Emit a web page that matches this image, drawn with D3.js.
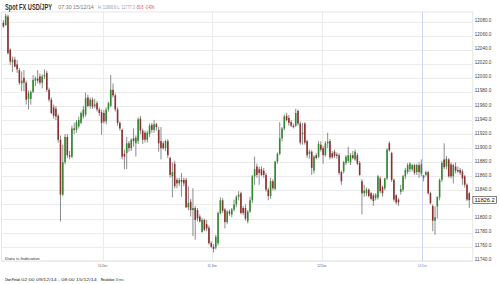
<!DOCTYPE html>
<html>
<head>
<meta charset="utf-8">
<script src="https://cdn.jsdelivr.net/npm/d3@7"></script>
<style>
  body { margin: 0; background: #fff; }
  svg { display: block; }
</style>
</head>
<body>
<script>
// 30 minute candles, 02:00 09/12/14 - 08:00 15/12/14
const opens = [12078,12075,12087,12040,12022,12026,12019,12011,11992,12000,11993,11970,11970,11980,11996,11999,12002,11993,12002,12007,
  11983,11969,11958,11956,11946,11912,11834,11880,11916,11890,11888,11928,11926,11931,11936,11945,11948,11972,11960,11969,
  11960,11964,11955,11951,11950,11938,11955,11960,11983,11975,11955,11936,11926,11892,11893,11907,11900,11914,11907,11910,
  11942,11925,11922,11912,11920,11933,11926,11934,11926,11910,11907,11900,11910,11886,11860,11878,11855,11850,11855,11855,
  11855,11816,11824,11812,11815,11812,11803,11781,11798,11792,11787,11765,11760,11759,11765,11808,11826,11813,11795,11810,
  11806,11813,11820,11831,11836,11815,11815,11796,11810,11826,11860,11874,11870,11870,11868,11862,11841,11832,11853,11842,
  11881,11892,11914,11928,11946,11943,11937,11932,11932,11953,11935,11920,11935,11910,11892,11895,11868,11890,11888,11905,
  11900,11890,11907,11910,11893,11895,11891,11890,11866,11867,11879,11882,11880,11890,11884,11890,11879,11853,11836,11836,
  11841,11836,11833,11829,11830,11857,11845,11843,11857,11907,11893,11855,11833,11827,11838,11841,11860,11866,11870,11870,
  11876,11866,11876,11864,11858,11862,11866,11836,11818,11797,11817,11830,11855,11884,11874,11884,11877,11860,11874,11869,
  11869,11867,11860,11848,11836];
const highs = [12082,12091,12090,12042,12030,12030,12025,12014,12009,12011,11996,11982,11982,12004,12002,12011,12006,12005,12012,12010,
  11986,11972,11962,11960,11949,11918,11905,11920,11920,11896,11932,11936,11940,11945,11952,11960,11979,11976,11972,11972,
  11970,11967,11958,11955,11954,11958,11966,12004,11992,11978,11958,11938,11928,11898,11916,11910,11914,11928,11918,11944,
  11946,11928,11925,11925,11935,11936,11940,11936,11930,11930,11910,11912,11913,11888,11880,11882,11858,11858,11865,11858,
  11858,11846,11828,11843,11818,11815,11806,11801,11800,11798,11790,11768,11764,11777,11810,11830,11829,11815,11812,11813,
  11815,11827,11833,11839,11838,11818,11820,11812,11831,11862,11888,11878,11874,11874,11872,11865,11844,11858,11856,11882,
  11894,11937,11930,11948,11950,11947,11940,11935,11956,11955,11938,11936,11937,11912,11898,11897,11890,11893,11910,11910,
  11903,11910,11922,11913,11896,11898,11894,11893,11868,11882,11890,11902,11893,11896,11898,11893,11882,11856,11848,11844,
  11843,11838,11836,11836,11862,11860,11847,11858,11900,11910,11895,11857,11835,11829,11848,11862,11872,11879,11880,11878,
  11878,11878,11880,11884,11862,11868,11868,11838,11820,11817,11831,11857,11882,11907,11889,11886,11880,11878,11880,11874,
  11872,11870,11862,11850,11838];
const lows = [12071,12074,12033,12018,12008,12015,12007,11990,11981,11981,11962,11955,11962,11978,11988,11992,11990,11985,11998,11980,
  11966,11948,11942,11940,11908,11796,11832,11877,11886,11884,11886,11920,11922,11928,11934,11942,11945,11958,11956,11956,
  11957,11952,11946,11919,11935,11934,11952,11958,11972,11952,11932,11925,11884,11870,11870,11895,11896,11902,11888,11906,
  11920,11906,11908,11908,11916,11922,11922,11925,11895,11884,11898,11896,11886,11858,11830,11843,11843,11846,11831,11846,
  11815,11812,11803,11775,11770,11796,11794,11780,11782,11782,11763,11758,11752,11756,11762,11806,11808,11786,11792,11804,
  11802,11810,11816,11826,11806,11805,11797,11793,11808,11822,11848,11858,11848,11860,11858,11838,11826,11828,11840,11840,
  11878,11890,11910,11925,11938,11932,11930,11928,11930,11932,11905,11905,11905,11886,11885,11862,11864,11884,11886,11895,
  11878,11888,11900,11884,11885,11886,11885,11862,11848,11864,11876,11879,11876,11884,11882,11876,11861,11806,11831,11832,
  11830,11826,11818,11826,11827,11836,11831,11840,11855,11895,11852,11824,11820,11818,11834,11838,11856,11863,11866,11867,
  11862,11862,11858,11860,11853,11860,11834,11820,11782,11777,11800,11826,11852,11870,11870,11858,11857,11850,11864,11865,
  11862,11848,11844,11825,11815];
const closes = [12073,12088,12035,12023,12026,12016,12012,11993,11996,11993,11969,11978,11980,11997,11999,11996,11993,12002,12004,11983,
  11969,11950,11946,11945,11912,11834,11880,11916,11890,11888,11928,11926,11937,11940,11950,11955,11971,11960,11969,11959,
  11962,11955,11950,11936,11938,11955,11964,11983,11975,11955,11936,11928,11888,11888,11907,11900,11912,11910,11915,11941,
  11925,11912,11912,11922,11932,11926,11934,11930,11907,11900,11900,11910,11890,11862,11866,11846,11850,11855,11852,11850,
  11816,11822,11812,11815,11798,11800,11796,11798,11784,11786,11765,11760,11757,11774,11808,11826,11811,11795,11810,11807,
  11813,11820,11831,11834,11808,11808,11800,11810,11826,11860,11870,11862,11865,11862,11862,11841,11832,11853,11843,11881,
  11892,11914,11928,11945,11940,11936,11932,11930,11950,11935,11908,11922,11908,11890,11895,11872,11888,11886,11906,11898,
  11890,11907,11909,11887,11887,11889,11889,11865,11853,11880,11888,11890,11890,11886,11895,11878,11862,11836,11840,11841,
  11832,11828,11825,11834,11860,11839,11836,11857,11898,11897,11855,11827,11823,11823,11842,11860,11869,11876,11878,11876,
  11865,11876,11866,11877,11861,11866,11836,11822,11797,11802,11831,11855,11879,11873,11885,11860,11860,11876,11868,11867,
  11865,11857,11848,11827,11826.2];

const dayLabels = ["10 Dec", "11 Dec", "12 Dec", "14 Dec"];
const dayStarts = [44, 92, 140, 184];
const priceTicks = [11740,11760,11780,11800,11820,11840,11860,11880,11900,11920,11940,11960,11980,12000,12020,12040,12060,12080];
const lastPrice = 11826.2;

const svg = d3.select("body").append("svg")
  .attr("width", 500)
  .attr("height", 284)
  .style("font-family", "'Liberation Sans', Arial, sans-serif");

const plot = { left: 1.5, right: 472.7, top: 12, bottom: 260.8 };

const x = d3.scaleLinear().domain([0, 206]).range([2.25, 472.7]);
const y = d3.scaleLinear().domain([11740, 12080]).range([260.8, 21.5]);

const candles = opens.map((o, i) => ({ i, o, h: highs[i], l: lows[i], c: closes[i] }));

// the source image is squeezed sideways, so text is scaled to its measured width
function squeezed(parent, str, px, py, size, width, opts = {}) {
  const g = parent.append("g");
  const t = g.append("text")
    .attr("font-size", size)
    .attr("font-weight", opts.bold ? "bold" : "normal")
    .attr("fill", opts.fill || "#333")
    .text(str);
  const natural = t.node().getComputedTextLength();
  const k = width / natural;
  const x0 = opts.middle ? px - width / 2 : px;
  g.attr("transform", `translate(${x0},${py}) scale(${k},1)`);
  return t;
}

// plot frame + grid
svg.append("rect")
  .attr("x", plot.left).attr("y", plot.top)
  .attr("width", plot.right - plot.left).attr("height", plot.bottom - plot.top)
  .attr("fill", "#fff").attr("stroke", "#e6e6e6").attr("stroke-width", 1);

svg.append("g").selectAll("line")
  .data(priceTicks)
  .enter().append("line")
  .attr("x1", plot.left).attr("x2", plot.right)
  .attr("y1", d => Math.round(y(d)) + 0.5).attr("y2", d => Math.round(y(d)) + 0.5)
  .attr("stroke", "#ebebeb");

svg.append("g").selectAll("line")
  .data(dayStarts)
  .enter().append("line")
  .attr("x1", d => Math.round(x(d)) + 0.5).attr("x2", d => Math.round(x(d)) + 0.5)
  .attr("y1", plot.top).attr("y2", plot.bottom)
  .attr("stroke", (d, i) => dayLabels[i] === "14 Dec" ? "#cdd3f2" : "#ebebeb");

// candles
const cg = svg.append("g");
cg.selectAll("line.wick")
  .data(candles)
  .enter().append("line")
  .attr("class", "wick")
  .attr("x1", d => x(d.i + 0.5)).attr("x2", d => x(d.i + 0.5))
  .attr("y1", d => y(d.h)).attr("y2", d => y(d.l))
  .attr("stroke", "#6f6f6f")
  .attr("stroke-width", 0.8);

cg.selectAll("rect.body")
  .data(candles)
  .enter().append("rect")
  .attr("class", "body")
  .attr("x", d => x(d.i) + 0.35)
  .attr("width", x(1) - x(0) - 0.7)
  .attr("y", d => y(Math.max(d.o, d.c)))
  .attr("height", d => Math.max(0.7, Math.abs(y(d.o) - y(d.c))))
  .attr("fill", d => d.c >= d.o ? "#2e8c2e" : "#8c2f2f");

// price axis
const fmt = d3.format(".1f");
priceTicks.filter(d => Math.abs(y(d) - y(lastPrice)) > 6).forEach(d => {
  squeezed(svg, fmt(d), 474.8, y(d) + 0.6, 4.8, 16.5, { fill: "#444" });
});

svg.append("rect")
  .attr("x", 472.9).attr("y", y(lastPrice) - 3.6)
  .attr("width", 23.6).attr("height", 6.8)
  .attr("fill", "#fff").attr("stroke", "#333").attr("stroke-width", 0.6);
squeezed(svg, fmt(lastPrice), 474.4, y(lastPrice) + 2.1, 6, 20.5, { fill: "#111" });

// day axis
dayStarts.forEach((d, i) => {
  squeezed(svg, dayLabels[i], x(d), 267.3, 3.8, 9.5,
    { middle: true, fill: dayLabels[i] === "14 Dec" ? "#6f82d8" : "#555" });
});

// notice on bottom edge
svg.append("rect")
  .attr("x", 3.5).attr("y", 255.5).attr("width", 38).attr("height", 5)
  .attr("fill", "#fff");
squeezed(svg, "Data is Indicative", 5, 259.8, 4, 35);

// header
squeezed(svg, "Spot FX USD/JPY", 5, 10, 9, 47, { bold: true });

const header = [
  { t: "07:30 15/12/14", x: 58.3, w: 35.5, c: "#777" },
  { t: "H: 11906.6 L: 11777.3", x: 98, w: 36.8, c: "#999" },
  { t: "-50.8", x: 136, w: 7.3, c: "#d83a3a" },
  { t: "-0.43%", x: 145, w: 9.3, c: "#d83a3a" }
];
header.forEach(d => {
  squeezed(svg, d.t, d.x, 9.3, 5.4, d.w, { fill: d.c });
});

// footer
const footer = [
  { t: "Chart Period:", x: 5, w: 15.5, b: true },
  { t: "02:00 09/12/14 - 08:00 15/12/14", x: 21.3, w: 75.5, b: false },
  { t: "Resolution:", x: 101, w: 14, b: true },
  { t: "30 mins", x: 115.8, w: 8, b: false }
];
footer.forEach(d => {
  squeezed(svg, d.t, d.x, 280.5, 4, d.w, { bold: d.b });
});
</script>
</body>
</html>
